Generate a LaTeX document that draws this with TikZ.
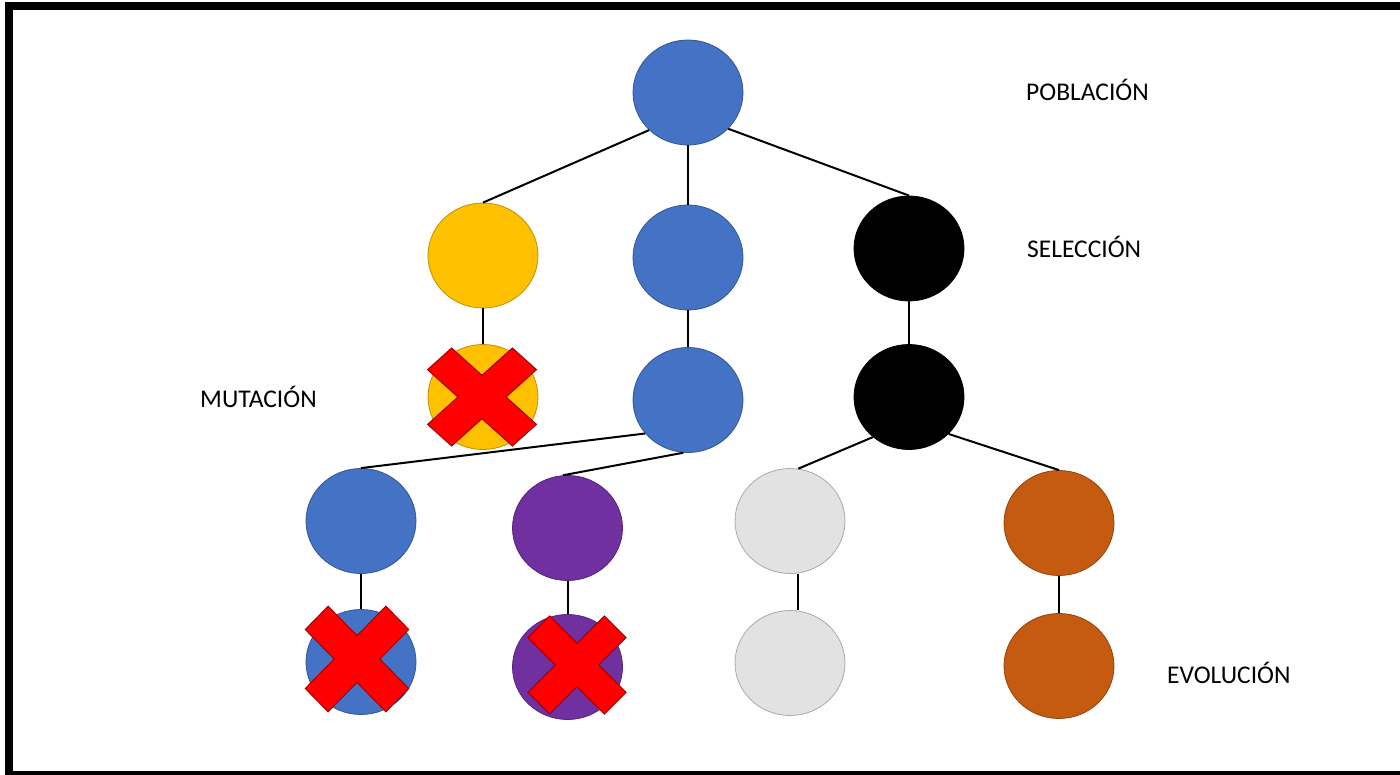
\documentclass[tikz,border=0pt]{standalone}
\usepackage{fontspec}
\setmainfont{Carlito}
\usetikzlibrary{shapes.geometric}

\definecolor{cblue}{HTML}{4472C4}
\definecolor{cyellow}{HTML}{FFC000}
\definecolor{cpurple}{HTML}{7030A0}
\definecolor{cgrey}{HTML}{E3E2E2}
\definecolor{corange}{HTML}{C55A11}
\definecolor{cred}{HTML}{FF0000}

\tikzset{
  ind/.style={ellipse, minimum width=110pt, minimum height=105pt, inner sep=0pt,
              fill=#1, draw=#1!75!black, line width=0.8pt},
  link/.style={draw=black, line width=2pt},
  lbl/.style={font=\fontsize{25.5}{30}\selectfont, inner sep=0pt, anchor=base west},
  redx/.pic={
    \filldraw[fill=cred, draw=cred!65!black, line width=1pt]
      (-17,60) -- (17,60) -- (17,17) -- (60,17) -- (60,-17) -- (17,-17) --
      (17,-60) -- (-17,-60) -- (-17,-17) -- (-60,-17) -- (-60,17) -- (-17,17) -- cycle;
  }
}

\begin{document}
\begin{tikzpicture}[x=1pt,y=-1pt]
  \useasboundingbox (0,0) rectangle (1400,775);
  \clip (0,0) rectangle (1400,775);
  % outer frame
  \draw[line width=8pt] (9,6) rectangle (1410,775);

  % individuals
  \node[ind=cblue]   (top) at (688,92.5) {};
  \node[ind=cyellow] (y1)  at (483,255.5) {};
  \node[ind=cblue]   (b1)  at (688,257.5) {};
  \node[ind=black]   (k1)  at (909,248.5) {};
  \node[ind=cyellow] (y2)  at (483,397) {};
  \node[ind=cblue]   (b2)  at (688,400) {};
  \node[ind=black]   (k2)  at (909,397) {};
  \node[ind=cblue]   (b3)  at (361,521) {};
  \node[ind=cpurple] (p3)  at (567.5,528) {};
  \node[ind=cgrey]   (g3)  at (790,521) {};
  \node[ind=corange] (o3)  at (1059,523) {};
  \node[ind=cblue]   (b4)  at (361,662) {};
  \node[ind=cpurple] (p4)  at (567.5,667) {};
  \node[ind=cgrey]   (g4)  at (790,663) {};
  \node[ind=corange] (o4)  at (1059,666) {};

  % connectors
  \draw[link] (top.224) -- (y1.north);
  \draw[link] (top.south) -- (b1.north);
  \draw[link] (top.318) -- (k1.north);
  \draw[link] (y1.south) -- (y2.north);
  \draw[link] (b1.south) -- (b2.north);
  \draw[link] (k1.south) -- (k2.north);
  \draw[link] (b2.218) -- (b3.north);
  \draw[link] (b2.265) -- (p3.95);
  \draw[link] (k2.228) -- (g3.81);
  \draw[link] (k2.317) -- (o3.north);
  \draw[link] (b3.south) -- (b4.north);
  \draw[link] (p3.south) -- (p4.north);
  \draw[link] (g3.81 |- g3.south) -- (g4.north -| g3.81);
  \draw[link] (o3.south) -- (o4.north);

  % discarded individuals
  \pic[yscale=0.9, rotate=45]  at (482,397) {redx};
  \pic[yscale=0.97, xscale=0.95, rotate=45] at (357,659) {redx};
  \pic[yscale=0.9, xscale=0.9, rotate=45] at (577,665) {redx};

  % stage labels
  \node[lbl] (pob) at (1026,101) {POBLACIÓN};
  \node[lbl] (sel) at (1027,258) {SELECCIÓN};
  \node[lbl] (mut) at (200,407)  {MUTACIÓN};
  \node[lbl] (evo) at (1167,683) {EVOLUCIÓN};
\end{tikzpicture}
\end{document}
